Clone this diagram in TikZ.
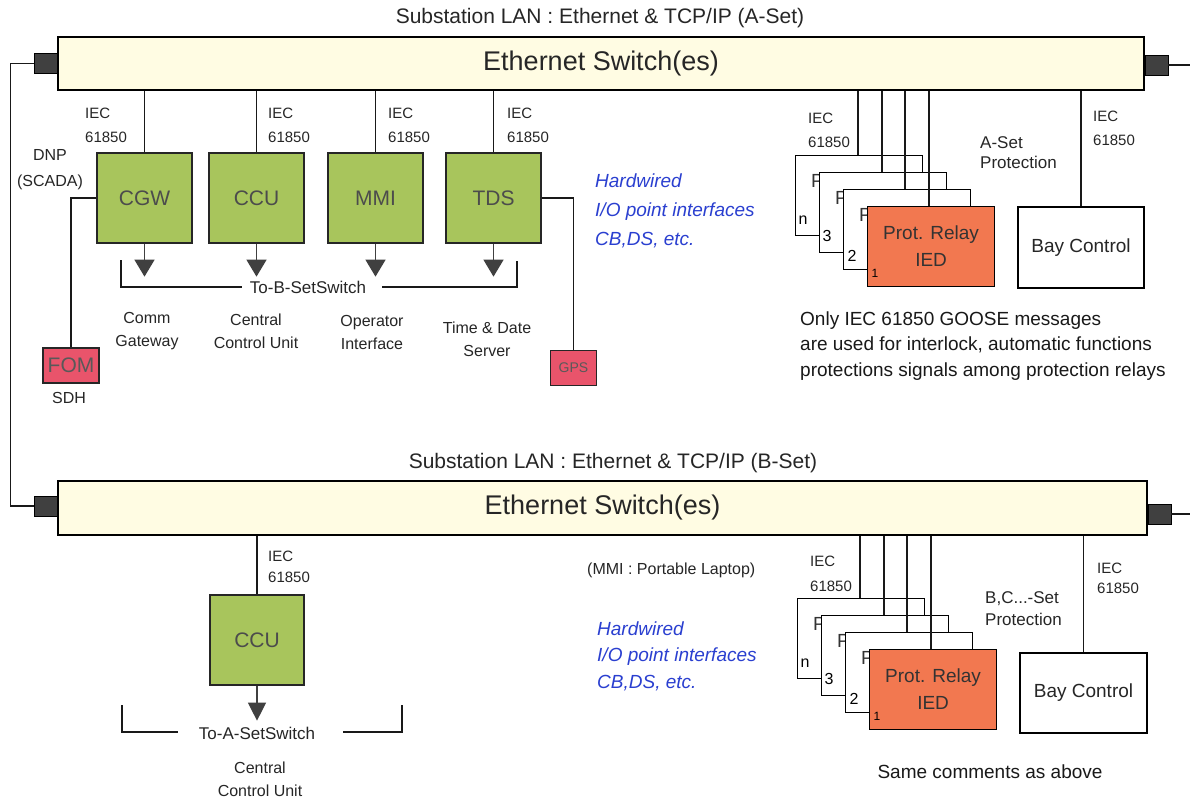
\documentclass[tikz,border=0pt]{standalone}
\usepackage{fontspec}
\setmainfont{Liberation Sans}
\usetikzlibrary{arrows.meta}
\definecolor{barfill}{HTML}{FFFCE3}
\definecolor{greenfill}{HTML}{A8C55C}
\definecolor{relayfill}{HTML}{F27850}
\definecolor{pinkfill}{HTML}{E9546B}
\definecolor{bluetxt}{HTML}{2A3FD0}
\definecolor{darkblock}{HTML}{404040}
\newcommand{\fsz}[2]{\fontsize{#1pt}{#2pt}\selectfont}
\newcommand{\relaystack}{%
  \node[relay] (rn) at (0,0) {};
  \node[ptxt] (pn) at (16,26) {P};
  \node[num] (nn) at (8,65) {n};
  \node[relay] (r3) at (24,17) {};
  \node[ptxt] (p3) at (40,43) {P};
  \node[num] (n3) at (32,81) {3};
  \node[relay] (r2) at (48,34) {};
  \node[ptxt] (p2) at (64,60) {P};
  \node[num] (n2) at (57,101) {2};
  \node[relay, fill=relayfill] (r1) at (72,51) {Prot. Relay\\IED};
  \node[num, font=\fsz{12}{14}] (n1) at (80,118) {1};
  \coordinate (t1) at (63,0);
  \coordinate (t2) at (87,17);
  \coordinate (t3) at (110,34);
  \coordinate (t4) at (134,51);
}
\tikzset{
  bar/.style={draw=black, line width=1.3pt, fill=barfill, inner sep=0, font=\fsz{27}{32}, text=black!85},
  plug/.style={draw=black, line width=0.8pt, fill=darkblock, minimum width=23pt, minimum height=20pt, inner sep=0},
  wire/.style={line width=1.3pt, draw=black!90},
  arr/.style={wire, -{Triangle[width=20pt,length=17pt]}, color=black!75},
  gbox/.style={draw=black!85, line width=1.3pt, fill=greenfill, minimum width=95pt, minimum height=90pt, inner sep=0, font=\fsz{21}{25}, text=black!70},
  title/.style={font=\fsz{21}{25}, inner sep=0, text=black!85},
  iec/.style={font=\fsz{15}{24}, align=left, inner sep=0, anchor=west, text=black!85},
  lbl/.style={font=\fsz{16}{23}, align=center, inner sep=0, text=black!85},
  note/.style={font=\fsz{19}{25.5}, align=left, inner sep=0, anchor=west, text=black!90},
  hw/.style={font=\fsz{19}{29}\itshape, text=bluetxt, align=left, inner sep=0, anchor=west},
  relay/.style={draw=black, line width=1.2pt, fill=white, minimum width=127pt, minimum height=80pt, inner sep=0, anchor=north west, font=\fsz{19}{27}, align=center, text=black!80},
  ptxt/.style={font=\fsz{19}{22}, inner sep=0, anchor=west, text=black!80},
  num/.style={font=\fsz{16}{18}, inner sep=0, text=black},
  bay/.style={draw=black, line width=1.3pt, fill=white, minimum width=126pt, minimum height=81pt, inner sep=0, font=\fsz{19}{23}, text=black!85},
  redbox/.style={draw=black!85, line width=1.2pt, fill=pinkfill, inner sep=0, text=black!65},
}
\begin{document}
\begin{tikzpicture}[x=1pt,y=-1pt]
\useasboundingbox[fill=white] (0,0) rectangle (1190,800);

% ===== A-set LAN =====
\node[title] (tA) at (600,18) {Substation LAN : Ethernet \& TCP/IP (A-Set)};
\node[bar, minimum width=1086pt, minimum height=53pt] (barA) at (601,63.5) {Ethernet Switch(es)};
\node[plug, anchor=east] (plA) at (barA.west) {};
\node[plug, anchor=west] (prA) at ([yshift=-1.5pt]barA.east) {};
\coordinate (eA) at (1190,65);
\draw[wire] (prA.east) -- (prA.east -| eA);

% ===== B-set LAN =====
\node[title] (tB) at (613,463) {Substation LAN : Ethernet \& TCP/IP (B-Set)};
\node[bar, minimum width=1089pt, minimum height=54pt] (barB) at (602.5,508) {Ethernet Switch(es)};
\node[plug, anchor=east] (plB) at ([yshift=2pt]barB.west) {};
\node[plug, anchor=west] (prB) at ([yshift=-6pt]barB.east) {};
\coordinate (eB) at (1190,514);
\draw[wire] (prB.east) -- (prB.east -| eB);
\coordinate (loopB) at ([xshift=-23pt]plB.west);
\draw[wire] (plA.west) -| (loopB) -- (plB.west);

% ===== top green boxes =====
\node[gbox] (cgw) at (144.5,198) {CGW};
\node[gbox] (ccu) at (256.5,198) {CCU};
\node[gbox] (mmi) at (375.5,198) {MMI};
\node[gbox] (tds) at (493.5,198) {TDS};
\foreach \n in {cgw,ccu,mmi,tds}{
  \draw[wire] (\n.north) -- (\n.north |- barA.south);
  \draw[arr] (\n.south) -- ([yshift=-33pt]\n.south);
}
\node[iec] (iec1) at (85,125) {IEC\\61850};
\node[iec] (iec2) at (268,125) {IEC\\61850};
\node[iec] (iec3) at (388,125) {IEC\\61850};
\node[iec] (iec4) at (507,125) {IEC\\61850};
\node[lbl, font=\fsz{16}{26}] (dnp) at (50,170) {DNP\\(SCADA)};

\node[redbox, minimum width=56pt, minimum height=35pt, font=\fsz{21}{24}] (fom) at (71,365.5) {FOM};
\draw[wire] (cgw.west) -| (fom.north);
\node[lbl] (sdh) at (69,398) {SDH};

\node[redbox, minimum width=46pt, minimum height=35pt, font=\fsz{14}{16}] (gps) at (573.5,368) {GPS};
\draw[wire] (tds.east) -| (gps.north);

\coordinate (b1) at (121,260);
\coordinate (b2) at (121,287);
\coordinate (b3) at (242,287);
\coordinate (b4) at (382,287);
\coordinate (b5) at (517,287);
\coordinate (b6) at (517,261);
\node[lbl, font=\fsz{17}{20}] (toB) at (308,287) {To-B-SetSwitch};
\draw[wire] (b1) -- (b2) -- (b3);
\draw[wire] (b4) -- (b5) -- (b6);

\node[lbl] (l1) at (147,331) {Comm\\Gateway};
\node[lbl] (l2) at (256,331) {Central\\Control Unit};
\node[lbl] (l3) at (372,332) {Operator\\Interface};
\node[lbl] (l4) at (487,339) {Time \& Date\\Server};

\node[hw] (hwA) at (595,211) {Hardwired\\I/O point interfaces\\CB,DS, etc.};

% ===== top relay stack =====
\begin{scope}[shift={(795,155)}, name prefix=A-]
  \relaystack
\end{scope}
\foreach \i in {1,...,4} \draw[wire] (A-t\i) -- (A-t\i |- barA.south);
\node[iec] (iec5) at (808,130) {IEC\\61850};
\node[iec, font=\fsz{17}{20}] (asp) at (980,153) {A-Set\\Protection};
\node[bay] (bayA) at (1081,247.5) {Bay Control};
\draw[wire] (bayA.north) -- (bayA.north |- barA.south);
\node[iec] (iec6) at (1093,128) {IEC\\61850};
\node[note] (goose) at (800,346) {Only IEC 61850 GOOSE messages\\are used for interlock, automatic functions\\protections signals among protection relays};

% ===== bottom =====
\node[gbox, minimum width=94pt] (ccuB) at (257,640) {CCU};
\draw[wire] (ccuB.north) -- (ccuB.north |- barB.south);
\draw[arr, -{Triangle[width=18pt,length=18pt]}] (ccuB.south) -- ([yshift=-35pt]ccuB.south);
\node[iec, font=\fsz{15}{21}] (iec7) at (268,567) {IEC\\61850};
\coordinate (c1) at (122,705);
\coordinate (c2) at (122,732);
\coordinate (c3) at (178,732);
\coordinate (c4) at (343,732);
\coordinate (c5) at (402,732);
\coordinate (c6) at (402,705);
\node[lbl, font=\fsz{17}{20}] (toA) at (257,733) {To-A-SetSwitch};
\draw[wire] (c1) -- (c2) -- (c3);
\draw[wire] (c4) -- (c5) -- (c6);
\node[lbl] (l5) at (260,779) {Central\\Control Unit};

\node[lbl, anchor=west] (laptop) at (587,570) {(MMI : Portable Laptop)};
\node[hw, font=\fsz{19}{26.5}\itshape] (hwB) at (597,656) {Hardwired\\I/O point interfaces\\CB,DS, etc.};

\begin{scope}[shift={(797,598)}, name prefix=B-]
  \relaystack
\end{scope}
\foreach \i in {1,...,4} \draw[wire] (B-t\i) -- (B-t\i |- barB.south);
\node[iec, font=\fsz{15}{25}] (iec8) at (810,574) {IEC\\61850};
\node[iec, font=\fsz{17}{22}] (bsp) at (985,609) {B,C...-Set\\Protection};
\node[bay, minimum width=127pt, minimum height=80pt] (bayB) at (1083.5,693) {Bay Control};
\draw[wire] (bayB.north) -- (bayB.north |- barB.south);
\node[iec, font=\fsz{15}{20}] (iec9) at (1097,578) {IEC\\61850};
\node[note, anchor=center] (same) at (990,772) {Same comments as above};
\end{tikzpicture}
\end{document}
